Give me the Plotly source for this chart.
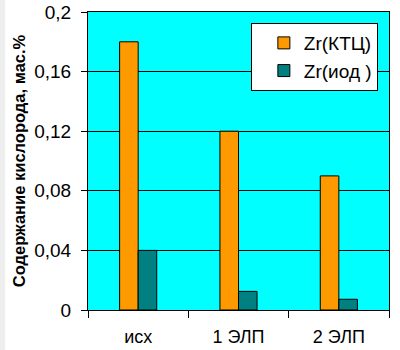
import plotly.graph_objects as go

categories = ["исх", "1 ЭЛП", "2 ЭЛП"]
zr_ktc = [0.18, 0.12, 0.09]
zr_iod = [0.04, 0.0125, 0.0072]
series_names = ["Zr(КТЦ)", "Zr(иод )"]
y_title = "Содержание кислорода, мас.%"

fig = go.Figure()
fig.add_trace(go.Bar(x=categories, y=zr_ktc, name=series_names[0],
                     marker=dict(color="#FF9900", line=dict(color="black", width=1))))
fig.add_trace(go.Bar(x=categories, y=zr_iod, name=series_names[1],
                     marker=dict(color="#008080", line=dict(color="black", width=1))))

fig.update_layout(
    width=400, height=350,
    margin=dict(l=88, r=11, t=12, b=40),
    paper_bgcolor="white",
    plot_bgcolor="#00FFFF",
    separators=", ",
    barmode="group",
    bargap=0.63,
    bargroupgap=0,
    font=dict(family="Liberation Sans, Arial, sans-serif", color="black"),
    legend=dict(
        x=0.963, y=0.963, xanchor="right", yanchor="top",
        bgcolor="white", bordercolor="black", borderwidth=1,
        font=dict(size=19), indentation=12,
    ),
    showlegend=True,
    shapes=[dict(type="rect", xref="paper", yref="paper",
                 x0=-88/301, x1=-83/301, y0=-40/298, y1=1 + 12/298,
                 fillcolor="#EEEEEE", line=dict(width=0), layer="below")],
)
fig.update_xaxes(
    showline=True, linecolor="black", linewidth=1, mirror=True,
    ticks="outside", ticklen=7, tickcolor="black", tickson="boundaries",
    tickfont=dict(size=18), showgrid=False, ticklabelstandoff=10,
    automargin=False,
)
fig.update_yaxes(
    range=[0, 0.2], dtick=0.04, tick0=0,
    showline=True, linecolor="black", linewidth=1, mirror=True,
    ticks="outside", ticklen=6, tickcolor="black",
    showgrid=True, gridcolor="black", gridwidth=1,
    tickfont=dict(size=19), zeroline=False, ticklabelstandoff=6,
    automargin=False,
    title=dict(text="<b>" + y_title + "</b>", font=dict(size=16.5), standoff=4),
)

fig.write_html("out.html")
